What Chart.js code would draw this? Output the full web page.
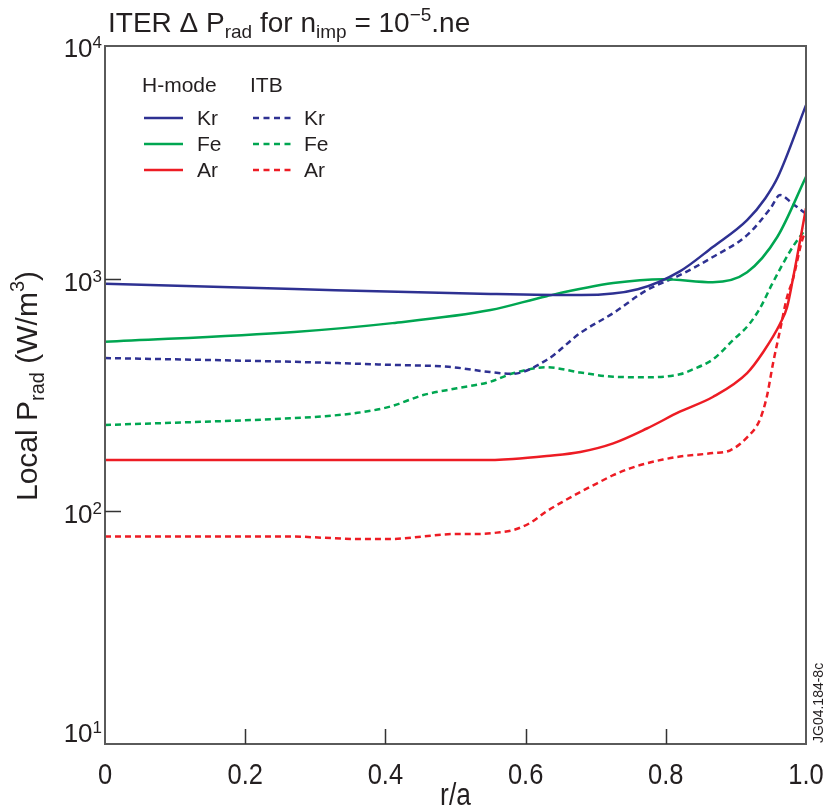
<!DOCTYPE html>
<html>
<head>
<meta charset="utf-8">
<script src="https://cdn.jsdelivr.net/npm/chart.js@4.4.1/dist/chart.umd.min.js"></script>
<style>
  html, body { margin: 0; padding: 0; background: #fff; }
  #wrap { width: 827px; height: 808px; }
</style>
</head>
<body>
<div id="wrap"><canvas id="prad" width="827" height="808"></canvas></div>
<script>
// ITER local radiated power profiles, log scale

// --- H-mode (solid) ---
const rKrH = [0, 0.27, 0.55, 0.68, 0.76, 0.82, 0.867, 0.916, 0.942, 0.96, 1.0];
const pKrH = [950, 902, 860, 850, 900, 1075, 1368, 1786, 2218, 2740, 5570];

const rFeH = [0, 0.27, 0.41, 0.55, 0.63, 0.725, 0.796, 0.867, 0.916, 0.959, 1.0];
const pFeH = [535, 590, 644, 733, 841, 957, 995, 966, 1066, 1510, 2740];

const rArH = [0, 0.27, 0.535, 0.582, 0.63, 0.678, 0.725, 0.773, 0.82, 0.867, 0.916, 0.939, 0.963, 0.973, 0.981, 1.0];
const pArH = [166, 166, 166, 168, 173, 180, 196, 227, 268, 310, 393, 484, 640, 755, 986, 2010];

// --- ITB (dashed) ---
const rKrI = [0, 0.27, 0.41, 0.49, 0.549, 0.58, 0.63, 0.678, 0.725, 0.773, 0.82, 0.867, 0.916, 0.949, 0.963, 0.981, 1.0];
const pKrI = [456, 439, 426, 418, 397, 390, 447, 584, 711, 893, 1035, 1239, 1538, 2000, 2286, 2100, 1900];

const rFeI = [0, 0.264, 0.311, 0.36, 0.407, 0.454, 0.502, 0.549, 0.582, 0.63, 0.678, 0.725, 0.773, 0.82, 0.839, 0.866, 0.882, 0.896, 0.909, 0.92, 0.93, 0.937, 0.944, 0.951, 0.981, 1.0];
const pFeI = [235, 251, 256, 265, 282, 316, 338, 360, 392, 416, 395, 379, 377, 388, 408, 447, 493, 545, 591, 643, 710, 771, 851, 940, 1368, 1640];

const rArI = [0, 0.264, 0.311, 0.36, 0.407, 0.454, 0.502, 0.535, 0.559, 0.582, 0.606, 0.63, 0.653, 0.678, 0.702, 0.725, 0.749, 0.773, 0.796, 0.82, 0.867, 0.892, 0.916, 0.934, 0.944, 0.953, 0.963, 0.973, 0.981, 0.996, 1.0];
const pArI = [78, 78, 77, 76, 76, 78, 80, 80, 81, 83, 89, 100, 110, 121, 132, 143, 153, 161, 167, 172, 178, 183, 208, 247, 310, 433, 601, 834, 986, 1509, 1570];

const xTicks = [0, 0.2, 0.4, 0.6, 0.8, 1.0];
const xTickLabels = ['0', '0.2', '0.4', '0.6', '0.8', '1.0'];
const yTicks = [10, 100, 1000, 10000];
const yTickExp = ['1', '2', '3', '4'];

const BLUE = '#2e3192';
const GREEN = '#00a651';
const RED = '#ed1c24';
const FONT = '"Liberation Sans", Arial, sans-serif';

function pts(r, p) {
  return r.map((x, i) => ({ x: x, y: p[i] }));
}

function series(label, r, p, color, dashed) {
  return {
    label: label,
    data: pts(r, p),
    borderColor: color,
    backgroundColor: color,
    borderWidth: 2.5,
    borderDash: dashed ? [6, 4] : [],
    pointRadius: 0,
    fill: false,
    cubicInterpolationMode: 'monotone'
  };
}

// draw a run of text pieces with sizes and vertical shifts
function drawRich(ctx, parts, x, y, align) {
  let total = 0;
  parts.forEach(p => {
    ctx.font = p.size + 'px ' + FONT;
    total += ctx.measureText(p.t).width;
  });
  let cx = align === 'center' ? x - total / 2 : (align === 'right' ? x - total : x);
  ctx.textAlign = 'left';
  ctx.textBaseline = 'alphabetic';
  parts.forEach(p => {
    ctx.font = p.size + 'px ' + FONT;
    ctx.fillText(p.t, cx, y + (p.dy || 0));
    cx += ctx.measureText(p.t).width;
  });
}

const decor = {
  id: 'decor',
  afterDraw(chart) {
    const ctx = chart.ctx;
    const a = chart.chartArea;
    const xs = chart.scales.x;
    const ys = chart.scales.y;
    ctx.save();

    // frame
    ctx.strokeStyle = '#5a5a5a';
    ctx.lineWidth = 2;
    ctx.setLineDash([]);
    ctx.strokeRect(a.left, a.top, a.right - a.left, a.bottom - a.top);

    // inner ticks
    ctx.strokeStyle = '#333';
    ctx.lineWidth = 1.5;
    ctx.beginPath();
    [100, 1000].forEach(v => {
      const py = Math.round(ys.getPixelForValue(v)) + 0.5;
      ctx.moveTo(a.left, py);
      ctx.lineTo(a.left + 16, py);
    });
    [0.2, 0.4, 0.6, 0.8].forEach(v => {
      const px = Math.round(xs.getPixelForValue(v)) + 0.5;
      ctx.moveTo(px, a.bottom);
      ctx.lineTo(px, a.bottom - 15);
    });
    ctx.stroke();

    ctx.fillStyle = '#231f20';

    // y tick labels 10^n
    const yOff = [-11, 3, 3, 2];
    yTicks.forEach((v, i) => {
      const py = ys.getPixelForValue(v) + yOff[i];
      drawRich(ctx, [
        { t: '10', size: 26, dy: 9 },
        { t: yTickExp[i], size: 17, dy: 0 }
      ], a.left - 3, py, 'right');
    });

    // x tick labels (narrow face)
    xTicks.forEach((v, i) => {
      const px = xs.getPixelForValue(v);
      ctx.save();
      ctx.translate(px, a.bottom + 40);
      ctx.scale(0.85, 1);
      ctx.font = '30px ' + FONT;
      ctx.textAlign = 'center';
      ctx.textBaseline = 'alphabetic';
      ctx.fillText(xTickLabels[i], 0, 0);
      ctx.restore();
    });

    // x axis title
    ctx.save();
    ctx.translate((a.left + a.right) / 2, 805);
    ctx.scale(0.85, 1);
    ctx.font = '31px ' + FONT;
    ctx.textAlign = 'center';
    ctx.fillText('r/a', 0, 0);
    ctx.restore();

    // y axis title
    ctx.save();
    ctx.translate(37, 386);
    ctx.rotate(-Math.PI / 2);
    drawRich(ctx, [
      { t: 'Local P', size: 30 },
      { t: 'rad', size: 20, dy: 7 },
      { t: ' (W/m', size: 30 },
      { t: '3', size: 20, dy: -13 },
      { t: ')', size: 30 }
    ], 0, 0, 'center');
    ctx.restore();

    // chart title
    drawRich(ctx, [
      { t: 'ITER \u0394 P', size: 28 },
      { t: 'rad', size: 19, dy: 6 },
      { t: ' for n', size: 28 },
      { t: 'imp', size: 19, dy: 6 },
      { t: ' = 10', size: 28 },
      { t: '\u22125', size: 19, dy: -11 },
      { t: '.ne', size: 28 }
    ], 108, 32, 'left');

    // legend
    ctx.font = '21px ' + FONT;
    ctx.textAlign = 'left';
    ctx.fillText('H-mode', 142, 92);
    ctx.fillText('ITB', 250, 92);
    const rows = [['Kr', BLUE, 118], ['Fe', GREEN, 144], ['Ar', RED, 170]];
    rows.forEach(row => {
      ctx.lineWidth = 2.5;
      ctx.strokeStyle = row[1];
      ctx.setLineDash([]);
      ctx.beginPath();
      ctx.moveTo(144, row[2]);
      ctx.lineTo(183, row[2]);
      ctx.stroke();
      ctx.setLineDash([6, 4.5]);
      ctx.beginPath();
      ctx.moveTo(253, row[2]);
      ctx.lineTo(291, row[2]);
      ctx.stroke();
      ctx.setLineDash([]);
      ctx.font = '21px ' + FONT;
      ctx.fillText(row[0], 197, row[2] + 7);
      ctx.fillText(row[0], 304, row[2] + 7);
    });

    // figure id
    ctx.save();
    ctx.translate(823, 743);
    ctx.rotate(-Math.PI / 2);
    ctx.font = '14px ' + FONT;
    ctx.textAlign = 'left';
    ctx.fillText('JG04.184-8c', 0, 0);
    ctx.restore();

    ctx.restore();
  }
};

const chart = new Chart(document.getElementById('prad').getContext('2d'), {
  type: 'line',
  data: {
    datasets: [
      series('Kr H-mode', rKrH, pKrH, BLUE, false),
      series('Fe H-mode', rFeH, pFeH, GREEN, false),
      series('Ar H-mode', rArH, pArH, RED, false),
      series('Kr ITB', rKrI, pKrI, BLUE, true),
      series('Fe ITB', rFeI, pFeI, GREEN, true),
      series('Ar ITB', rArI, pArI, RED, true)
    ]
  },
  options: {
    responsive: false,
    animation: false,
    layout: { padding: { left: 105, right: 21, top: 46, bottom: 64 } },
    plugins: {
      legend: { display: false },
      tooltip: { enabled: false }
    },
    scales: {
      x: { type: 'linear', min: 0, max: 1, display: false },
      y: { type: 'logarithmic', min: 10, max: 10000, display: false }
    }
  },
  plugins: [decor]
});
</script>
</body>
</html>
